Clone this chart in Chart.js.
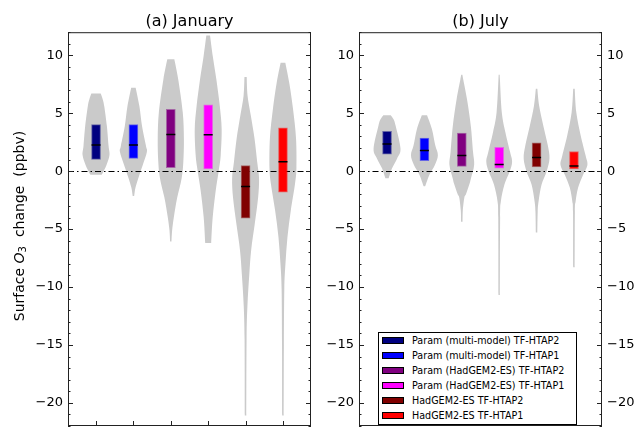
<!DOCTYPE html>
<html>
<head>
<meta charset="utf-8">
<script src="https://cdn.jsdelivr.net/npm/chart.js@4.4.0/dist/chart.umd.min.js"></script>
<style>
	html, body { margin: 0; padding: 0; overflow: hidden; background: #fff; }
	#wrap { position: relative; width: 638px; height: 430px; overflow: hidden; }
	#janChart { position: absolute; left: 0; top: 0; }
	#julChart { position: absolute; left: 318px; top: 0; }
	#legend {
		position: absolute; left: 378px; top: 332px; width: 197px; height: 91px;
		border: 1px solid #000; background: #fff;
		font-family: "DejaVu Sans", sans-serif; font-size: 9.6px; color: #000;
	}
	#legend .row { height: 15.07px; line-height: 15.07px; white-space: nowrap; position: relative; }
	#legend .sw {
		position: absolute; left: 3px; top: 4px; width: 22px; height: 7px;
		border: 1px solid #000; box-sizing: border-box;
	}
	#legend .tx { position: absolute; left: 33px; top: 0; }
</style>
</head>
<body>
<div id="wrap">
	<canvas id="janChart" width="320" height="432"></canvas>
	<canvas id="julChart" width="320" height="432"></canvas>
	<div id="legend"></div>
</div>
<script>
var categories = [
	'Param (multi-model) TF-HTAP2',
	'Param (multi-model) TF-HTAP1',
	'Param (HadGEM2-ES) TF-HTAP2',
	'Param (HadGEM2-ES) TF-HTAP1',
	'HadGEM2-ES TF-HTAP2',
	'HadGEM2-ES TF-HTAP1'
];
var boxColors = ['#000080', '#0000ff', '#800080', '#ff00ff', '#800000', '#ff0000'];
var boxEdges = ['rgba(0,0,128,0.5)', 'rgba(0,0,255,0.5)', 'rgba(128,0,128,0.5)', 'rgba(255,0,255,0.5)', 'rgba(128,0,0,0.5)', 'rgba(255,0,0,0.5)'];

// January: 25th / 75th percentile and median (ppbv)
var janQ1 = [1.02, 1.1, 0.3, 0.2, -4.05, -1.81];
var janQ3 = [4.02, 4.02, 5.33, 5.72, 0.48, 3.74];
var janMedian = [2.27, 2.27, 3.17, 3.14, -1.33, 0.82];

// July
var julQ1 = [1.47, 0.9, 0.42, 0.25, 0.37, 0.2];
var julQ3 = [3.45, 2.86, 3.29, 2.07, 2.44, 1.7];
var julMedian = [2.35, 1.78, 1.36, 0.57, 1.19, 0.45];

// violin outlines: [value, half width of density] from max down to min
var janViolins = [
	[[6.7, 0.125], [6.2, 0.18], [5.6, 0.22], [3.9, 0.29], [2.2, 0.335], [1.4, 0.36], [0.54, 0.28], [-0.2, 0.17], [-0.3, 0.15]],
	[[7.2, 0.06], [5.6, 0.16], [3.9, 0.23], [2.2, 0.335], [1.65, 0.36], [0.54, 0.25], [-0.6, 0.13], [-1.44, 0.054], [-2.15, 0.02]],
	[[9.66, 0.094], [7.9, 0.2], [5.07, 0.32], [2.8, 0.35], [0.82, 0.335], [-0.6, 0.29], [-2.3, 0.17], [-4.0, 0.08], [-5.1, 0.036], [-6.06, 0.018]],
	[[11.72, 0.05], [9.88, 0.125], [7.9, 0.22], [5.63, 0.31], [3.65, 0.36], [1.38, 0.335], [0, 0.28], [-1.7, 0.2], [-4.0, 0.12], [-6.2, 0.08]],
	[[8.13, 0.03], [6.5, 0.054], [4.8, 0.14], [2.8, 0.24], [0.82, 0.31], [-0.6, 0.36], [-2.3, 0.335], [-4.56, 0.245], [-6.8, 0.15], [-8.9, 0.1], [-11.6, 0.05], [-14.5, 0.027], [-21.1, 0.02]],
	[[9.37, 0.063], [7.6, 0.17], [5.35, 0.27], [2.8, 0.35], [0.25, 0.36], [-1.16, 0.32], [-3.4, 0.21], [-5.7, 0.12], [-8.0, 0.067], [-10.2, 0.036], [-15, 0.025], [-21.1, 0.02]]
];
var julViolins = [
	[[4.84, 0.1], [4.5, 0.17], [3.93, 0.23], [1.95, 0.36], [1.1, 0.27], [0.25, 0.134], [-0.6, 0.045]],
	[[4.84, 0.07], [3.65, 0.2], [2.23, 0.29], [1.38, 0.36], [0.54, 0.28], [-0.3, 0.134], [-1.3, 0.02]],
	[[8.33, 0.015], [7.9, 0.04], [6.2, 0.14], [3.93, 0.24], [1.67, 0.3], [0.54, 0.33], [-0.6, 0.245], [-1.16, 0.2], [-2.0, 0.11], [-2.3, 0.067], [-3.4, 0.027], [-4.36, 0.02]],
	[[8.33, 0.015], [7.9, 0.02], [5.07, 0.07], [3.37, 0.165], [1.67, 0.29], [0.82, 0.345], [-0.03, 0.28], [-1.16, 0.14], [-2.6, 0.045], [-4, 0.025], [-10.7, 0.018]],
	[[7.11, 0.02], [5.63, 0.07], [3.93, 0.18], [2.23, 0.3], [1.1, 0.345], [0, 0.27], [-1.16, 0.134], [-2.6, 0.054], [-3.5, 0.03], [-5.3, 0.02]],
	[[7.11, 0.02], [5.07, 0.063], [3.09, 0.18], [1.38, 0.31], [0.54, 0.36], [-0.3, 0.245], [-1.44, 0.11], [-2.6, 0.045], [-3.5, 0.025], [-8.3, 0.02]]
];

var FONT = '"DejaVu Sans", sans-serif';

function minusSign(v) {
	return String(v).replace('-', '\u2212');
}

// smooth curve through the points (catmull-rom as bezier)
function curveThrough(ctx, pts) {
	for (var i = 0; i < pts.length - 1; i++) {
		var p0 = pts[Math.max(i - 1, 0)], p1 = pts[i], p2 = pts[i + 1], p3 = pts[Math.min(i + 2, pts.length - 1)];
		ctx.bezierCurveTo(
			p1[0] + (p2[0] - p0[0]) / 6, p1[1] + (p2[1] - p0[1]) / 6,
			p2[0] - (p3[0] - p1[0]) / 6, p2[1] - (p3[1] - p1[1]) / 6,
			p2[0], p2[1]
		);
	}
}

// violins, zero line, spines with inward ticks, y label
function panelPlugin(violins, withYLabel) {
	return {
		id: 'panel',
		beforeDatasetsDraw: function (chart) {
			var ctx = chart.ctx, xs = chart.scales.x, ys = chart.scales.y, a = chart.chartArea;
			ctx.save();
			ctx.fillStyle = '#cacaca';
			violins.forEach(function (shape, i) {
				var c = i + 1;
				var right = shape.map(function (p) { return [xs.getPixelForValue(c + p[1]), ys.getPixelForValue(p[0])]; });
				var left = shape.map(function (p) { return [xs.getPixelForValue(c - p[1]), ys.getPixelForValue(p[0])]; }).reverse();
				ctx.beginPath();
				ctx.moveTo(right[0][0], right[0][1]);
				curveThrough(ctx, right);
				ctx.lineTo(left[0][0], left[0][1]);
				curveThrough(ctx, left);
				ctx.closePath();
				ctx.fill();
			});
			var y0 = Math.round(ys.getPixelForValue(0)) + 0.5;
			ctx.strokeStyle = '#000';
			ctx.lineWidth = 1;
			ctx.setLineDash([6, 3, 1.5, 3]);
			ctx.beginPath();
			ctx.moveTo(a.left, y0);
			ctx.lineTo(a.right, y0);
			ctx.stroke();
			ctx.restore();
		},
		afterDraw: function (chart) {
			var ctx = chart.ctx, xs = chart.scales.x, ys = chart.scales.y, a = chart.chartArea;
			ctx.save();
			ctx.strokeStyle = '#222';
			ctx.lineWidth = 1;
			ctx.strokeRect(a.left + 0.5, a.top + 0.5, a.right - a.left - 1, a.bottom - a.top - 1);
			ctx.beginPath();
			for (var v = Math.ceil(ys.min); v <= ys.max; v++) {
				var len = v % 5 === 0 ? 5 : 2.5;
				var py = Math.round(ys.getPixelForValue(v)) + 0.5;
				ctx.moveTo(a.left, py); ctx.lineTo(a.left + len, py);
				ctx.moveTo(a.right, py); ctx.lineTo(a.right - len, py);
			}
			for (var i = 1; i <= categories.length; i++) {
				var px = Math.round(xs.getPixelForValue(i)) + 0.5;
				ctx.moveTo(px, a.bottom); ctx.lineTo(px, a.bottom - 5);
			}
			ctx.stroke();
			if (withYLabel) {
				ctx.translate(20, 226);
				ctx.rotate(-Math.PI / 2);
				ctx.fillStyle = '#000';
				ctx.textBaseline = 'middle';
				var parts = [
					{ t: 'Surface ', f: '14px ' + FONT, dy: 0 },
					{ t: 'O', f: 'italic 14px ' + FONT, dy: 0 },
					{ t: '3', f: '10px ' + FONT, dy: 3 },
					{ t: '  change  (ppbv)', f: '14px ' + FONT, dy: 0 }
				];
				var total = 0;
				parts.forEach(function (p) { ctx.font = p.f; p.w = ctx.measureText(p.t).width; total += p.w; });
				var x = -total / 2;
				parts.forEach(function (p) {
					ctx.font = p.f;
					ctx.fillText(p.t, x, p.dy);
					x += p.w;
				});
			}
			ctx.restore();
		}
	};
}

function makeChart(id, title, q1, q3, med, violins, leftWidth, rightWidth) {
	var datasets = [{
		type: 'scatter',
		data: med.map(function (m, i) { return { x: i + 1, y: m }; }),
		pointStyle: 'line',
		radius: 4.5,
		borderColor: '#000',
		borderWidth: 1.5,
		order: -1
	}];
	categories.forEach(function (name, i) {
		datasets.push({
			type: 'bar',
			label: name,
			data: [{ x: i + 1, y: [q1[i], q3[i]] }],
			backgroundColor: boxColors[i],
			borderColor: boxEdges[i],
			borderWidth: 1,
			borderSkipped: false,
			barThickness: 9,
			grouped: false
		});
	});

	var yAxis = {
		type: 'linear',
		position: 'left',
		min: -22,
		max: 12,
		grid: { display: false, drawTicks: false },
		border: { display: false },
		ticks: {
			stepSize: 5,
			includeBounds: false,
			padding: 5,
			color: '#000',
			font: { family: FONT, size: 13 },
			callback: minusSign
		},
		afterBuildTicks: function (s) {
			s.ticks = s.ticks.filter(function (t) { return t.value % 5 === 0; });
		},
		afterFit: function (s) {
			s.width = leftWidth;
			s.paddingTop = 0;
			s.paddingBottom = 0;
		}
	};
	var scales = {
		x: { type: 'linear', min: 0.25, max: 6.75, offset: false, display: false },
		y: yAxis
	};
	if (rightWidth) {
		scales.y2 = Object.assign({}, yAxis, {
			position: 'right',
			afterFit: function (s) {
				s.width = rightWidth;
				s.paddingTop = 0;
				s.paddingBottom = 0;
			}
		});
	}

	return new Chart(document.getElementById(id), {
		type: 'bar',
		data: { datasets: datasets },
		options: {
			responsive: false,
			animation: false,
			events: [],
			layout: { padding: { left: 0, right: rightWidth ? 0 : 9, top: 0, bottom: 0 } },
			scales: scales,
			plugins: {
				legend: { display: false },
				tooltip: { enabled: false },
				title: {
					display: true,
					text: title,
					fullSize: false,
					color: '#000',
					font: { family: FONT, size: 16, weight: 'normal' },
					padding: { top: 12, bottom: 1 }
				}
			}
		},
		plugins: [panelPlugin(violins, !rightWidth)]
	});
}

var janChart = makeChart('janChart', '(a) January', janQ1, janQ3, janMedian, janViolins, 68, 0);
var julChart = makeChart('julChart', '(b) July', julQ1, julQ3, julMedian, julViolins, 41, 36);

// legend in the lower right of the July panel
var legendEl = document.getElementById('legend');
julChart.data.datasets.forEach(function (ds) {
	if (ds.type !== 'bar') return;
	var row = document.createElement('div');
	row.className = 'row';
	var sw = document.createElement('span');
	sw.className = 'sw';
	sw.style.background = ds.backgroundColor;
	var tx = document.createElement('span');
	tx.className = 'tx';
	tx.textContent = ds.label;
	row.appendChild(sw);
	row.appendChild(tx);
	legendEl.appendChild(row);
});
</script>
</body>
</html>
